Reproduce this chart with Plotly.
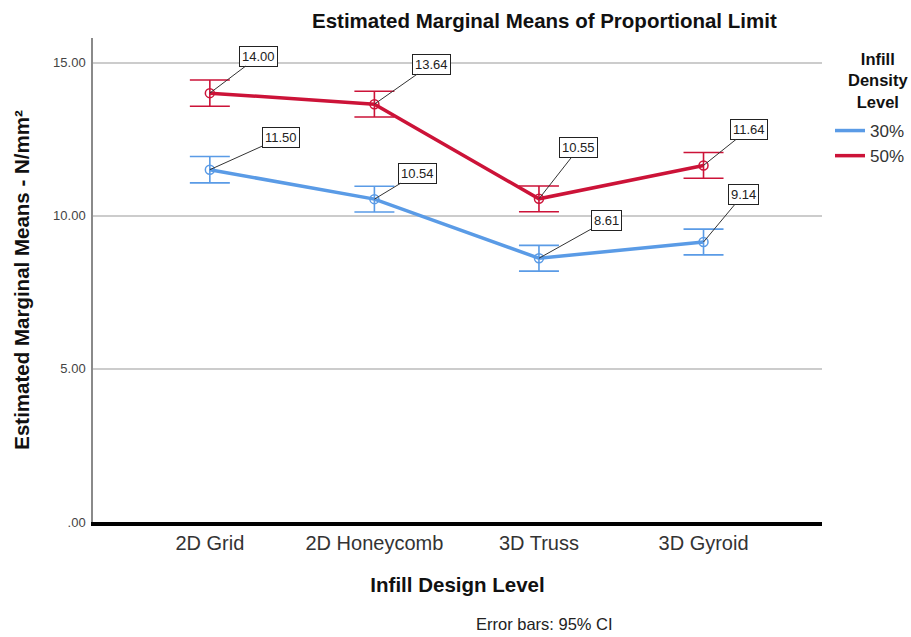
import plotly.graph_objects as go

# Estimated marginal means of proportional limit (N/mm²) with 95% CI
designs = ["2D Grid", "2D Honeycomb", "3D Truss", "3D Gyroid"]
mean_30 = [11.50, 10.54, 8.61, 9.14]
mean_50 = [14.00, 13.64, 10.55, 11.64]
ci_30 = [0.43, 0.42, 0.42, 0.42]
ci_50 = [0.43, 0.42, 0.42, 0.42]

y_ticks = [0, 5, 10, 15]
y_tick_text = [".00", "5.00", "10.00", "15.00"]

# label offsets (px) for the value callouts
off_30 = [(71, -32), (43, -26), (68, -38), (40, -48)]
off_50 = [(49, -37), (57, -40), (40, -51), (45, -36)]

BLUE = "#5a9be6"
RED = "#cc1338"
FONT = "Liberation Sans, Arial, sans-serif"

# plot area in pixels
L, R, T, B = 93, 822, 38, 522
W, H = R - L, B - T


def px_x(x):
    return (x - L) / W


def px_y(y):
    return (B - y) / H


fig = go.Figure()

for name, means, ci, color in [("30%", mean_30, ci_30, BLUE), ("50%", mean_50, ci_50, RED)]:
    fig.add_trace(go.Scatter(
        x=designs, y=means, mode="lines+markers", showlegend=False,
        line=dict(color=color, width=3.5),
        marker=dict(symbol="circle-open", size=9, color=color, line=dict(width=1.5)),
        error_y=dict(type="data", array=ci, visible=True, color=color,
                     thickness=1.6, width=20),
    ))
    # legend entry drawn as a plain line
    fig.add_trace(go.Scatter(
        x=[None], y=[None], mode="lines", name=name,
        line=dict(color=color, width=3.5),
    ))

for means, offs in [(mean_30, off_30), (mean_50, off_50)]:
    for d, v, (ax, ay) in zip(designs, means, offs):
        fig.add_annotation(
            x=d, y=v, text=f"{v:.2f}", showarrow=True, arrowhead=0,
            arrowwidth=1, arrowcolor="#333333", ax=ax, ay=ay,
            bgcolor="white", bordercolor="#222222", borderwidth=1, borderpad=2,
            font=dict(family=FONT, size=13, color="#222222"),
        )

fig.add_annotation(
    xref="paper", yref="paper", x=px_x(544), y=px_y(21),
    text="<b>Estimated Marginal Means of Proportional Limit</b>", showarrow=False,
    font=dict(family=FONT, size=20.5, color="#111111"), xanchor="center", yanchor="middle",
)
fig.add_annotation(
    xref="paper", yref="paper", x=px_x(544), y=px_y(624),
    text="Error bars: 95% CI", showarrow=False,
    font=dict(family=FONT, size=16.5, color="#222222"), xanchor="center", yanchor="middle",
)
fig.add_annotation(
    xref="paper", yref="paper", x=px_x(878), y=px_y(80),
    text="<b>Infill<br>Density<br>Level</b>", showarrow=False, align="center",
    font=dict(family=FONT, size=16.5, color="#111111"), xanchor="center", yanchor="middle",
)

fig.update_layout(
    width=911, height=637,
    margin=dict(l=L, r=911 - R, t=T, b=637 - B, autoexpand=False),
    paper_bgcolor="white", plot_bgcolor="white",
    font=dict(family=FONT, color="#222222"),
    xaxis=dict(
        type="category", range=[-0.71, 3.72],
        showline=True, linecolor="black", linewidth=4,
        showgrid=False, ticks="", tickfont=dict(size=20, color="#333333"),
        title=dict(text="<b>Infill Design Level</b>", font=dict(size=20.5, color="#111111"), standoff=26),
    ),
    yaxis=dict(
        range=[0, 15.8], tickvals=y_ticks, ticktext=y_tick_text,
        showline=True, linecolor="#8a8a8a", linewidth=1.5,
        showgrid=True, gridcolor="#cccccc", gridwidth=1.5, zeroline=False,
        ticks="", ticklabelstandoff=3, tickfont=dict(size=13, color="#444444"),
        title=dict(text="<b>Estimated Marginal Means - N/mm²</b>", font=dict(size=20.5, color="#111111"), standoff=18),
    ),
    legend=dict(
        x=px_x(830), xanchor="left", y=px_y(113), yanchor="top",
        font=dict(size=17, color="#333333"),
        itemwidth=30, tracegroupgap=0, bgcolor="rgba(0,0,0,0)",
    ),
)

fig.write_html("out.html")
